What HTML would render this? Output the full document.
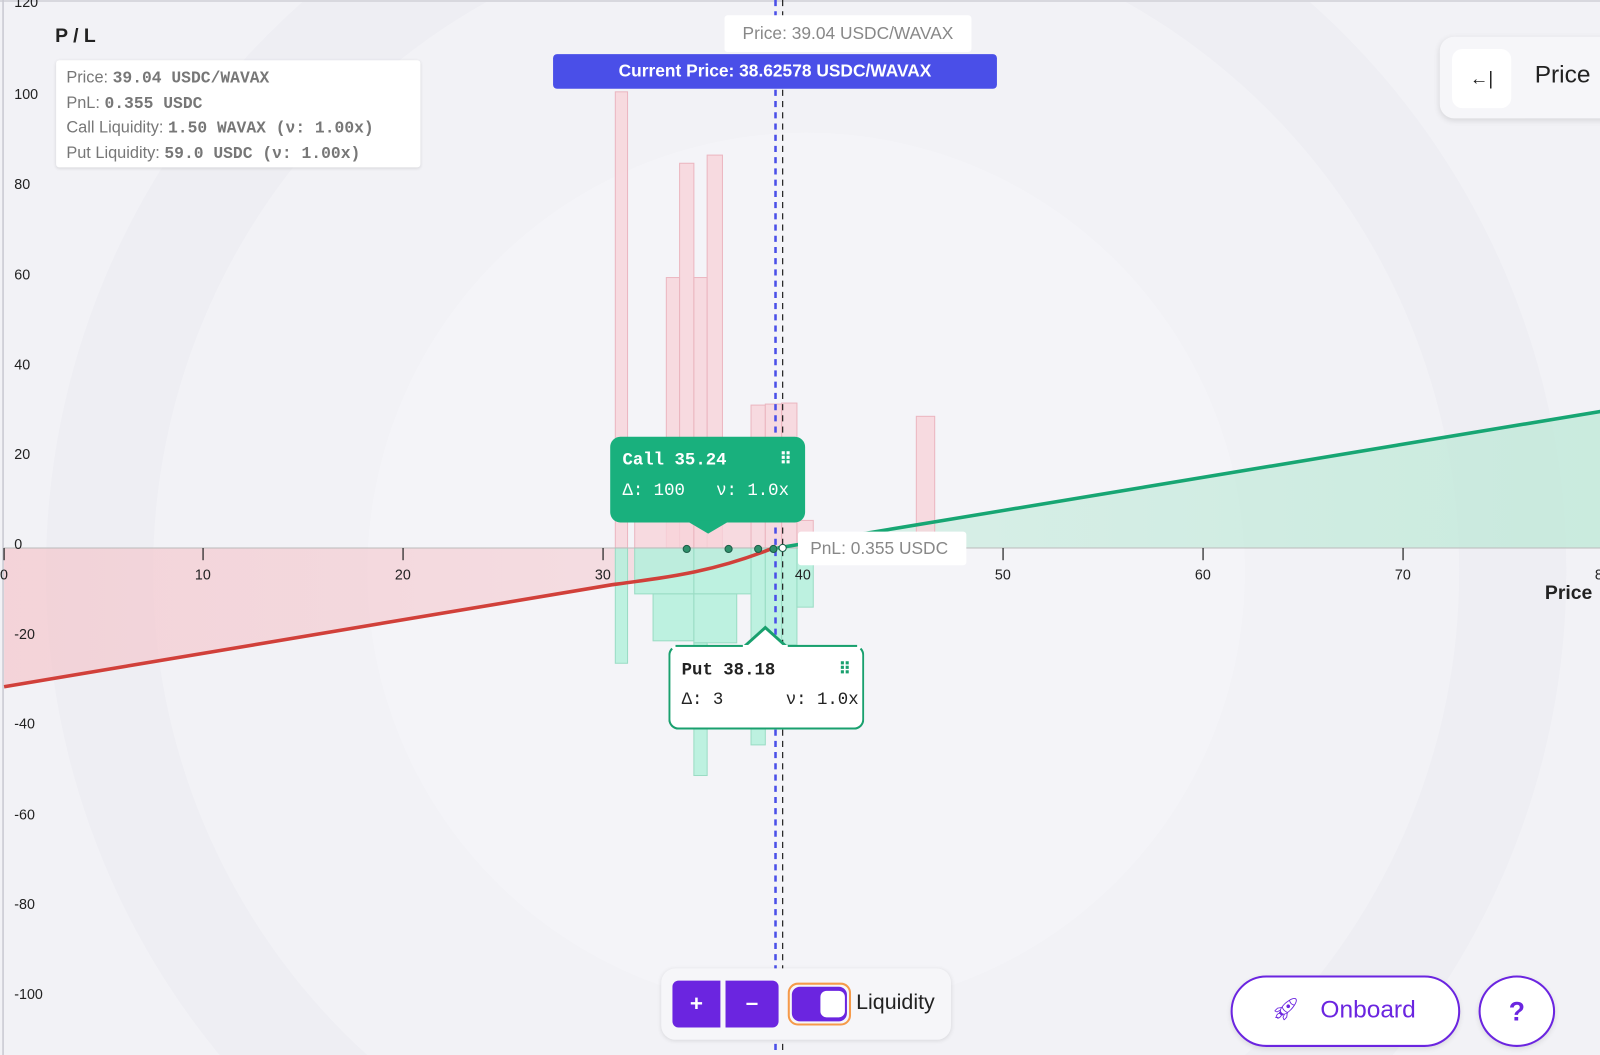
<!DOCTYPE html>
<html><head><meta charset="utf-8">
<style>
html,body{margin:0;padding:0;width:1600px;height:1055px;overflow:hidden;background:#f2f2f6;font-family:"Liberation Sans",sans-serif;}
#wrap{position:absolute;left:0;top:0;width:1600px;height:1055px;overflow:hidden;}
#in{position:absolute;left:0;top:0;width:1568px;height:1034px;transform:scale(1.020408);transform-origin:0 0;}
.abs{position:absolute;}
.mono{font-family:"Liberation Mono",monospace;}
.tick{position:absolute;font-size:14px;color:#222;}
</style></head><body>
<div id="wrap"><div id="in">
<svg class="abs" style="left:0;top:0" width="1568" height="1034" viewBox="0 0 1568 1034">
<defs>
<linearGradient id="gr" x1="0" y1="0" x2="1" y2="0">
<stop offset="0" stop-color="#f4c9cf" stop-opacity="0.75"/><stop offset="1" stop-color="#f4c9cf" stop-opacity="0.5"/></linearGradient>
<linearGradient id="gg" x1="0" y1="0" x2="1" y2="0">
<stop offset="0" stop-color="#bfe9d8" stop-opacity="0.5"/><stop offset="1" stop-color="#bfe9d8" stop-opacity="0.8"/></linearGradient>
</defs>
<rect width="1568" height="1034" fill="#f2f2f6"/>
<circle cx="790" cy="560" r="745" fill="#eeeef3"/>
<circle cx="790" cy="560" r="640" fill="#f2f2f6"/>
<circle cx="790" cy="560" r="430" fill="#f4f4f8"/>
<line x1="0" y1="1" x2="1568" y2="1" stroke="#d8d8de" stroke-width="2"/>
<line x1="3" y1="0" x2="3" y2="1034" stroke="#c9c9d2" stroke-width="1.5"/>
<path d="M4,673 L600,573 C660,565 700,560 758,537 L4,537 Z" fill="url(#gr)"/>
<path d="M766,537 L1600,398 L1600,537 Z" fill="url(#gg)"/>
<g fill="#f7d3da" fill-opacity="0.8" stroke="#ebb6c0" stroke-width="1">
<rect x="603" y="90" width="12" height="447"/>
<rect x="653" y="272" width="13" height="265"/>
<rect x="666" y="160" width="14" height="377"/>
<rect x="680" y="272" width="13" height="265"/>
<rect x="693" y="152" width="15" height="385"/>
<rect x="622" y="510" width="58" height="27"/>
<rect x="680" y="510" width="56" height="27"/>
<rect x="736" y="397" width="14" height="140"/>
<rect x="750" y="396" width="16" height="141"/>
<rect x="766" y="395" width="15" height="142"/>
<rect x="781" y="510" width="16" height="27"/>
<rect x="898" y="408" width="18" height="129"/>
</g>
<g fill="#b3f0dc" fill-opacity="0.85" stroke="#9adcc4" stroke-width="1">
<rect x="603" y="537" width="12" height="113"/>
<rect x="622" y="537" width="58" height="45"/>
<rect x="680" y="537" width="56" height="45"/>
<rect x="640" y="582" width="40" height="46"/>
<rect x="680" y="582" width="42" height="48"/>
<rect x="680" y="630" width="13" height="130"/>
<rect x="736" y="537" width="14" height="193"/>
<rect x="750" y="537" width="16" height="95"/>
<rect x="766" y="537" width="15" height="95"/>
<rect x="781" y="537" width="16" height="58"/>
</g>
<line x1="4" y1="537" x2="1568" y2="537" stroke="#bbb" stroke-width="1"/>
<g stroke="#222" stroke-width="1.2">
<line x1="4" y1="537" x2="4" y2="549"/><line x1="199" y1="537" x2="199" y2="549"/><line x1="395" y1="537" x2="395" y2="549"/>
<line x1="591" y1="537" x2="591" y2="549"/><line x1="787" y1="537" x2="787" y2="549"/><line x1="983" y1="537" x2="983" y2="549"/>
<line x1="1179" y1="537" x2="1179" y2="549"/><line x1="1375" y1="537" x2="1375" y2="549"/><line x1="1571" y1="537" x2="1571" y2="549"/>
</g>
<path d="M4,673 L600,573 C660,565 700,560 758,537" fill="none" stroke="#d1403a" stroke-width="3.5"/>
<path d="M762,537 L1600,398" fill="none" stroke="#17a673" stroke-width="3.5"/>
<line x1="760" y1="0" x2="760" y2="1034" stroke="#4a4fe8" stroke-width="2.5" stroke-dasharray="6,5"/>
<line x1="767" y1="0" x2="767" y2="1034" stroke="#222" stroke-width="1.2" stroke-dasharray="6,5"/>
<g stroke="#1d5e48" stroke-width="1" fill="#2e8f6a">
<circle cx="673" cy="538" r="3.5"/><circle cx="714" cy="538" r="3.5"/><circle cx="743" cy="538" r="3.5"/><circle cx="758" cy="538" r="3.5"/>
</g>
<circle cx="767" cy="537" r="3.5" fill="#fff" stroke="#1d5e48"/>
</svg>

<div class="tick" style="left:14px;top:-6px">120</div>
<div class="tick" style="left:14px;top:84px">100</div>
<div class="tick" style="left:14px;top:172px">80</div>
<div class="tick" style="left:14px;top:261px">60</div>
<div class="tick" style="left:14px;top:349px">40</div>
<div class="tick" style="left:14px;top:437px">20</div>
<div class="tick" style="left:14px;top:525px">0</div>
<div class="tick" style="left:14px;top:613px">-20</div>
<div class="tick" style="left:14px;top:701px">-40</div>
<div class="tick" style="left:14px;top:790px">-60</div>
<div class="tick" style="left:14px;top:878px">-80</div>
<div class="tick" style="left:14px;top:966px">-100</div>
<div class="tick" style="left:0px;top:555px">0</div>
<div class="tick" style="left:191px;top:555px">10</div>
<div class="tick" style="left:387px;top:555px">20</div>
<div class="tick" style="left:583px;top:555px">30</div>
<div class="tick" style="left:779px;top:555px">40</div>
<div class="tick" style="left:975px;top:555px">50</div>
<div class="tick" style="left:1171px;top:555px">60</div>
<div class="tick" style="left:1367px;top:555px">70</div>
<div class="tick" style="left:1563px;top:555px">80</div>
<div class="abs" style="left:1514px;top:571px;font-size:19px;font-weight:bold;color:#222">Price</div>
<div class="abs" style="left:54px;top:25px;font-size:19px;font-weight:bold;color:#222">P / L</div>

<div class="abs" style="left:55px;top:59px;width:357px;height:105px;background:#fff;border-radius:3px;box-shadow:0 1px 3px rgba(0,0,0,.12);color:#777;font-size:16px;line-height:23.5px;padding:6px 0 0 10px;box-sizing:border-box">
Price: <span class="mono" style="font-weight:bold">39.04 USDC/WAVAX</span><br>
PnL: <span class="mono" style="font-weight:bold">0.355 USDC</span><br>
Call Liquidity: <span class="mono" style="font-weight:bold">1.50 WAVAX (ν: 1.00x)</span><br>
Put Liquidity: <span class="mono" style="font-weight:bold">59.0 USDC (ν: 1.00x)</span>
</div>

<div class="abs" style="left:710px;top:15px;width:242px;height:36px;background:#fff;border-radius:3px;color:#888;font-size:17px;line-height:36px;text-align:center">Price: 39.04 USDC/WAVAX</div>
<div class="abs" style="left:542px;top:53px;width:435px;height:34px;background:#4a4fe8;border-radius:4px;color:#fff;font-size:17px;font-weight:bold;line-height:34px;text-align:center">Current Price: 38.62578 USDC/WAVAX</div>

<div class="abs" style="left:1411px;top:36px;width:200px;height:80px;background:#f6f6f9;border-radius:14px;box-shadow:0 2px 6px rgba(0,0,0,.12)">
<div class="abs" style="left:12px;top:12px;width:58px;height:58px;background:#fff;border-radius:10px;text-align:center;line-height:58px;font-size:18px;color:#222">←|</div>
<div class="abs" style="left:93px;top:24px;font-size:24px;color:#222">Price</div>
</div>

<div class="abs" style="left:598px;top:428px;width:191px;height:84px;background:#19b07d;border-radius:10px;color:#fff">
<div class="abs mono" style="left:12px;top:14px;font-size:17px;font-weight:bold">Call 35.24</div>
<div class="abs" style="left:166px;top:12px;font-size:16px;font-weight:bold">⠿</div>
<div class="abs mono" style="left:12px;top:44px;font-size:17px">Δ: 100&nbsp;&nbsp;&nbsp;ν: 1.0x</div>
</div>
<div class="abs" style="left:672px;top:510px;width:0;height:0;border-left:22px solid transparent;border-right:22px solid transparent;border-top:13px solid #19b07d"></div>
<div class="abs" style="left:782px;top:521px;width:165px;height:33px;background:#fff;border-radius:3px;color:#888;font-size:17px;line-height:33px;padding-left:12px;box-sizing:border-box">PnL: 0.355 USDC</div>

<div class="abs" style="left:728px;top:613px;width:0;height:0;border-left:22px solid transparent;border-right:22px solid transparent;border-bottom:20px solid #19a06e"></div>
<div class="abs" style="left:731px;top:617px;width:0;height:0;border-left:19px solid transparent;border-right:19px solid transparent;border-bottom:17px solid #fff"></div>
<div class="abs" style="left:655px;top:632px;width:192px;height:83px;background:#fff;border:2px solid #19a06e;border-top-color:transparent;border-radius:10px;box-sizing:border-box;color:#222">
<div class="abs mono" style="left:11px;top:14px;font-size:17px;font-weight:bold">Put 38.18</div>
<div class="abs" style="left:165px;top:12px;font-size:16px;font-weight:bold;color:#19a06e">⠿</div>
<div class="abs mono" style="left:11px;top:43px;font-size:17px">Δ: 3&nbsp;&nbsp;&nbsp;&nbsp;&nbsp;&nbsp;ν: 1.0x</div>
</div>
<div class="abs" style="left:662px;top:632px;width:66px;height:2px;background:#19a06e"></div>
<div class="abs" style="left:772px;top:632px;width:68px;height:2px;background:#19a06e"></div>

<div class="abs" style="left:648px;top:949px;width:284px;height:70px;background:#f6f6f9;border-radius:14px;box-shadow:0 1px 4px rgba(0,0,0,.1)">
<div class="abs" style="left:11px;top:12px;width:47px;height:46px;background:#6b25e0;border-radius:6px 0 0 6px;color:#fff;font-size:22px;font-weight:bold;text-align:center;line-height:46px">+</div>
<div class="abs" style="left:63px;top:12px;width:52px;height:46px;background:#6b25e0;border-radius:0 6px 6px 0;color:#fff;font-size:22px;font-weight:bold;text-align:center;line-height:44px">–</div>
<div class="abs" style="left:124px;top:14px;width:62px;height:42px;border:2px solid #f59a4a;border-radius:10px;box-sizing:border-box">
<div class="abs" style="left:2px;top:2px;width:54px;height:34px;background:#6b25e0;border-radius:8px"></div>
<div class="abs" style="left:30px;top:6px;width:24px;height:26px;background:#fff;border-radius:6px"></div>
</div>
<div class="abs" style="left:191px;top:22px;font-size:21px;color:#222">Liquidity</div>
</div>

<div class="abs" style="left:1206px;top:956px;width:225px;height:70px;background:#fff;border:2px solid #6b25e0;border-radius:35px;box-sizing:border-box;box-shadow:0 2px 5px rgba(0,0,0,.1)">
<div class="abs" style="left:38px;top:18px;font-size:22px;color:#6b25e0">🚀︎</div>
<div class="abs" style="left:86px;top:18px;font-size:24px;color:#6b25e0">Onboard</div>
</div>
<div class="abs" style="left:1449px;top:956px;width:75px;height:70px;background:#fff;border:2px solid #6b25e0;border-radius:50%;box-sizing:border-box;text-align:center;line-height:66px;font-size:26px;font-weight:bold;color:#6b25e0;box-shadow:0 2px 5px rgba(0,0,0,.1)">?</div>
</div></div>
</body></html>
